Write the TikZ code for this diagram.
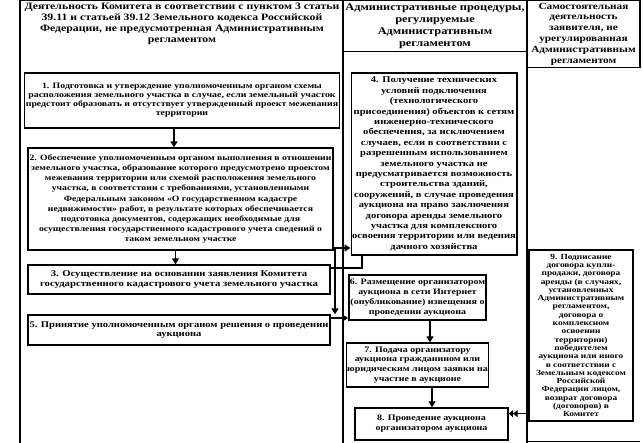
\documentclass[tikz,border=0pt]{standalone}
\usepackage{fontspec}
\setmainfont{Liberation Serif}
\newfontfamily\sk[FakeStretch=1.2]{Liberation Serif}
\usetikzlibrary{arrows.meta}
\tikzset{
  box/.style={draw, line width=1.3pt, align=center, inner sep=1pt},
  hdr/.style={align=center, inner sep=1pt},
  arr/.style={line width=1.3pt, -{Triangle[length=6pt,width=7pt]}},
  darr/.style={line width=1.3pt, -{Triangle[length=4.5pt,width=7pt]Triangle[length=4.5pt,width=7pt]}},
  con/.style={line width=1.3pt},
  frame/.style={line width=1.3pt}
}
\newcommand{\fs}[2]{\sk\bfseries\fontsize{#1}{#2}\selectfont}
\begin{document}
\begin{tikzpicture}[x=1pt,y=1pt]
\useasboundingbox (0,0) rectangle (643,443);
% column frames
\draw[frame] (20,0) -- (20,442.3) -- (343,442.3);
\draw[frame] (343,0) -- (343,443);
\draw[frame] (527,0) -- (527,443);
\draw[frame] (527,1.5) -- (640,1.5);
% headers
\node[hdr, font=\fs{9.8}{11}] (h1) at (182,419.5) {Деятельность Комитета в соответствии с пунктом 3 статьи\\39.11 и статьей 39.12 Земельного кодекса Российской\\Федерации, не предусмотренная Административным\\регламентом};
\node[box, minimum width=184, minimum height=51, font=\fs{10.3}{11.8}] (h2) at (435,416.8) {Административные процедуры,\\регулируемые\\Административным\\регламентом};
\node[box, minimum width=113, minimum height=67, font=\fs{9.4}{10.8}] (h3) at (583.5,409) {Самостоятельная\\деятельность\\заявителя, не\\урегулированная\\Административным\\регламентом};
% column 1 boxes
\node[box, minimum width=314, minimum height=55, font=\fs{8.2}{8.9}] (b1) at (182,342.5) {1. Подготовка и утверждение уполномоченным органом схемы\\расположения земельного участка в случае, если земельный участок\\предстоит образовать и отсутствует утвержденный проект межевания\\территории};
\node[box, minimum width=305, minimum height=102, font=\fs{8.1}{10.2}] (b2) at (180.5,244) {2. Обеспечение уполномоченным органом выполнения в отношении\\земельного участка, образование которого предусмотрено проектом\\межевания территории или схемой расположения земельного\\участка, в соответствии с требованиями, установленными\\Федеральным законом «О государственном кадастре\\недвижимости» работ, в результате которых обеспечивается\\подготовка документов, содержащих необходимые для\\осуществления государственного кадастрового учета сведений о\\таком земельном участке};
\node[box, minimum width=302, minimum height=29, font=\fs{8.9}{9.5}] (b3) at (179,163.5) {3. Осуществление на основании заявления Комитета\\государственного кадастрового учета земельного участка};
\node[box, minimum width=302, minimum height=30, font=\fs{8.8}{9.5}] (b5) at (179,113) {5. Принятие уполномоченным органом решения о проведении\\аукциона};
% column 2 boxes
\node[box, minimum width=164, minimum height=182, font=\fs{8.8}{10.4}] (b4) at (434,279) {4. Получение технических\\условий подключения\\(технологического\\присоединения) объектов к сетям\\инженерно-технического\\обеспечения, за исключением\\случаев, если в соответствии с\\разрешенным использованием\\земельного участка не\\предусматривается возможность\\строительства зданий,\\сооружений, в случае проведения\\аукциона на право заключения\\договора аренды земельного\\участка для комплексного\\освоения территории или ведения\\дачного хозяйства};
\node[box, minimum width=131, minimum height=45, font=\fs{8.3}{9.8}] (b6) at (417.5,145.5) {6. Размещение организатором\\аукциона в сети Интернет\\(опубликование) извещения о\\проведении аукциона};
\node[box, minimum width=131, minimum height=44, font=\fs{8.3}{9.8}] (b7) at (417.5,78) {7. Подача организатору\\аукциона гражданином или\\юридическим лицом заявки на\\участие в аукционе};
\node[box, minimum width=153, minimum height=32, font=\fs{8.3}{10}] (b8) at (431.5,19) {8. Проведение аукциона\\организатором аукциона};
% column 3 box
\node[box, minimum width=104, minimum height=171, font=\fs{7.8}{8.3}] (b9) at (581,107.5) {9. Подписание\\договора купли-\\продажи, договора\\аренды (в случаях,\\установленных\\Административным\\регламентом,\\договора о\\комплексном\\освоении\\территории)\\победителем\\аукциона или иного\\в соответствии с\\Земельным кодексом\\Российской\\Федерации лицом,\\возврат договора\\(договоров) в\\Комитет};
% junction coordinates
\coordinate (j) at (335,175);
\coordinate (ja) at (335,195);
\coordinate (k) at (362,175);
\coordinate (jb) at (335,125);
% connectors
\draw[arr] ([xshift=-8pt]b1.south) -- ([xshift=-8pt]b1.south |- b2.north);
\draw[arr] ([xshift=-5pt]b2.south) -- ([xshift=-5pt]b2.south |- b3.north);
\draw[con] (b3.east |- j) -- (j) -- (k) -- (k |- b4.south);
\draw[arr] (j) -- (ja) -- (ja -| b4.west);
\draw[arr] (j) -- (j |- b5.north);
\draw[arr] (b5.east |- jb) -- (jb -| b6.west);
\draw[arr] ([xshift=12.5pt]b6.south) -- ([xshift=12.5pt]b6.south |- b7.north);
\draw[arr] ([xshift=0pt]b7.south) ++(14.5,0) coordinate (s7) -- (s7 |- b8.north);
\draw[darr] ([yshift=8pt]b9.south west) -- ([yshift=8pt]b9.south west -| b8.east);
\end{tikzpicture}
\end{document}
